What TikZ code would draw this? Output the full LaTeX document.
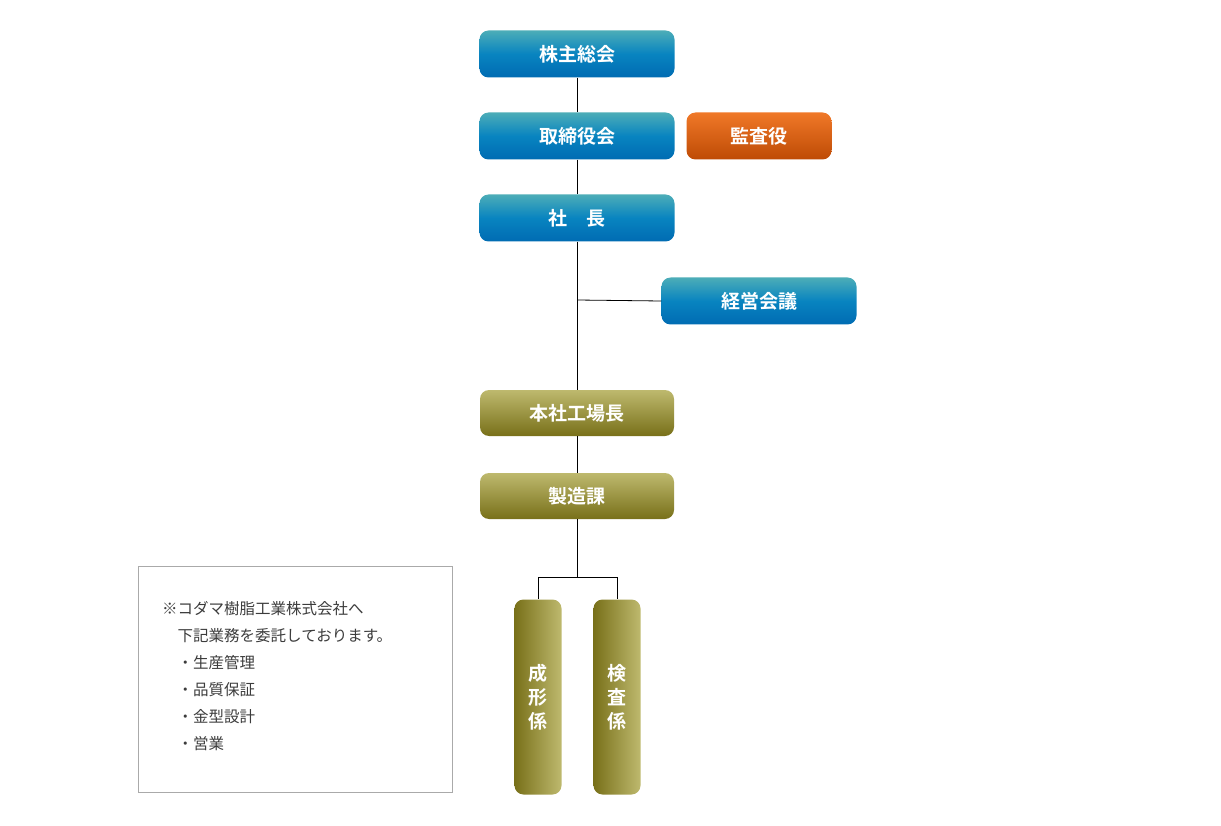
\documentclass[tikz,border=0pt]{standalone}
\usepackage{fontspec}
\setmainfont{Noto Sans CJK JP}
\newfontfamily\cjkb{Noto Sans CJK JP}[BoldFont={* Bold}]
\begin{document}
\begin{tikzpicture}[x=1pt,y=-1pt,
  boxbase/.style={rounded corners=9pt,text=white,font=\cjkb\bfseries\fontsize{19}{22}\selectfont,inner sep=0pt,drop shadow/.style={}},
  bluebox/.style={boxbase,minimum width=195pt,minimum height=47pt,top color=blue!10!cyan!60!black!70!white,bottom color=blue!40!cyan!70!black,middle color={rgb,255:red,8;green,132;blue,192}},
  orangebox/.style={boxbase,minimum width=145pt,minimum height=47pt,top color={rgb,255:red,240;green,120;blue,40},middle color={rgb,255:red,232;green,98;blue,8},bottom color={rgb,255:red,190;green,75;blue,5}},
  olivebox/.style={boxbase,minimum width=194pt,minimum height=46pt,top color={rgb,255:red,190;green,185;blue,110},middle color={rgb,255:red,154;green,144;blue,40},bottom color={rgb,255:red,120;green,112;blue,25}},
  vbox/.style={boxbase,minimum width=47pt,minimum height=195pt,align=center,font=\cjkb\bfseries\fontsize{19}{24}\selectfont,left color={rgb,255:red,120;green,112;blue,25},middle color={rgb,255:red,154;green,144;blue,40},right color={rgb,255:red,190;green,185;blue,110}},
  conn/.style={draw=black,line width=0.8pt}]
\useasboundingbox (0,0) rectangle (1221,826);
\node[bluebox] (kabu) at (577,54) {株主総会};
\node[bluebox] (tori) at (577,136) {取締役会};
\node[orangebox] (kansa) at (759,136) {監査役};
\node[bluebox] (sha) at (577,218) {社\hspace{1em}長};
\node[bluebox] (kei) at (759,301) {経営会議};
\node[olivebox] (hon) at (577,413) {本社工場長};
\node[olivebox] (sei) at (577,496) {製造課};
\node[vbox] (sk) at (538,697) {成\\形\\係};
\node[vbox] (ks) at (617,697) {検\\査\\係};
\coordinate (br) at (577,300);
\coordinate (sp) at (577,577);
\draw[conn] (kabu.south) -- (tori.north);
\draw[conn] (tori.south) -- (sha.north);
\draw[conn] (sha.south) -- (hon.north);
\draw[conn] (br) -- (kei.west);
\draw[conn] (hon.south) -- (sei.north);
\draw[conn] (sei.south) -- (sp);
\draw[conn] (sp) -| (sk.north);
\draw[conn] (sp) -| (ks.north);
\node[draw={rgb,255:red,170;green,170;blue,170},line width=0.8pt,minimum width=314pt,minimum height=226pt,inner sep=0pt] (note) at (295,679) {};
\node[anchor=north west,align=left,text={rgb,255:red,60;green,60;blue,60},font=\fontsize{15.5}{27}\selectfont,inner sep=0pt] (notetxt) at (162,601) {※コダマ樹脂工業株式会社へ\\\hspace{1em}下記業務を委託しております。\\\hspace{1em}・生産管理\\\hspace{1em}・品質保証\\\hspace{1em}・金型設計\\\hspace{1em}・営業};
\end{tikzpicture}
\end{document}
